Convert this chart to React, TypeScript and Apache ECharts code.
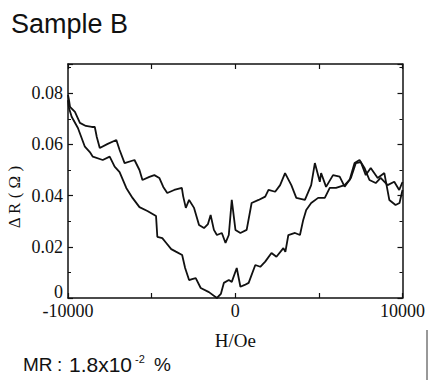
import React, { useEffect, useRef } from "react";
import * as echarts from "echarts";

const titleText = "Sample B";
const mrParts = ["MR", ":", "1.8x10", "-2", "%"];
const xName = "H/Oe";
const yName = "Δ R ( Ω )";

const xTickLabels = ["-10000", "0", "10000"];
const yTickLabels = ["0", "0.02", "0.04", "0.06", "0.08"];

const branchAx = [-10000, -9941, -9881, -9585, -9288, -8932, -8576, -8398, -8279, -8101, -7626, -7110, -6914, -6617, -6024, -5727, -5549, -5134, -4837, -4540, -4303, -4065, -3650, -3193, -3116, -2955, -2760, -2463, -2166, -1869, -1632, -1472, -1276, -1098, -801, -582, -386, -208, 12, 309, 682, 979, 1395, 1792, 1988, 2386, 2682, 2979, 3353, 3650, 4166, 4540, 4760, 5056, 5134, 5430, 5846, 6243, 6540, 6914, 7211, 7507, 7804, 8101, 8516, 8914, 9211, 9585, 9822, 10000];
const branchAy = [0.0793, 0.0773, 0.0747, 0.0727, 0.0684, 0.0672, 0.0668, 0.0668, 0.0629, 0.0586, 0.0602, 0.0617, 0.0578, 0.0527, 0.0539, 0.05, 0.0461, 0.0473, 0.048, 0.0469, 0.0434, 0.041, 0.0422, 0.043, 0.0398, 0.0352, 0.0383, 0.0352, 0.0285, 0.0273, 0.0289, 0.0324, 0.0266, 0.0246, 0.0254, 0.0215, 0.0246, 0.0383, 0.0266, 0.0254, 0.0266, 0.0371, 0.0383, 0.0396, 0.0422, 0.0415, 0.0441, 0.0488, 0.0441, 0.0391, 0.0383, 0.0441, 0.0527, 0.0454, 0.0488, 0.0434, 0.048, 0.0474, 0.0435, 0.0469, 0.0527, 0.0531, 0.048, 0.0508, 0.0469, 0.0488, 0.0383, 0.0363, 0.0371, 0.0422];

const branchBx = [-10000, -9941, -9781, -9407, -8991, -8694, -8516, -7923, -7507, -7211, -6914, -6516, -6142, -5727, -5252, -4736, -4659, -4362, -4125, -3828, -3549, -3175, -2997, -2760, -2582, -2362, -2065, -1573, -1098, -861, -682, -386, -208, 89, 309, 564, 801, 1199, 1496, 1792, 2166, 2463, 2878, 2997, 3175, 3573, 3869, 4065, 4243, 4540, 4955, 5353, 5650, 6024, 6540, 6837, 7134, 7430, 7727, 8024, 8398, 8694, 9110, 9507, 9804, 10000];
const branchBy = [0.0773, 0.0742, 0.0708, 0.0664, 0.0591, 0.057, 0.0552, 0.0539, 0.0552, 0.0513, 0.0492, 0.043, 0.0391, 0.0355, 0.034, 0.032, 0.0239, 0.0234, 0.0215, 0.0191, 0.0181, 0.0168, 0.0117, 0.007, 0.0074, 0.0078, 0.0039, 0.0023, 0.0, 0.0016, 0.0059, 0.007, 0.0063, 0.0117, 0.0044, 0.0051, 0.0059, 0.0129, 0.0122, 0.0142, 0.0176, 0.0161, 0.0195, 0.018, 0.0246, 0.0254, 0.0246, 0.0305, 0.0344, 0.0371, 0.0391, 0.0391, 0.043, 0.043, 0.0441, 0.0461, 0.0527, 0.0539, 0.0508, 0.0461, 0.0449, 0.0469, 0.0441, 0.0454, 0.0422, 0.0453];

const serif = "'Liberation Serif', 'Times New Roman', serif";
const sans = "'Liberation Sans', Arial, sans-serif";

export default function App() {
  const ref = useRef<HTMLDivElement>(null);
  useEffect(() => {
    if (!ref.current) return;
    const chart = echarts.init(ref.current, undefined, { renderer: "svg" });
    const pairsA = branchAx.map((x, i) => [x, branchAy[i]]);
    const pairsB = branchBx.map((x, i) => [x, branchBy[i]]);
    const axisLine = { show: true, onZero: false, lineStyle: { color: "#111", width: 1.5 } };
    const tick = { show: true, inside: true, length: 5, lineStyle: { color: "#111", width: 1.2 } };
    const minor = { show: true, splitNumber: 2, length: 3, lineStyle: { color: "#111", width: 1 } };
    const fmtY = (v: number) => {
      const idx = Math.round(v / 0.02);
      if (Math.abs(v - idx * 0.02) > 1e-6) return "";
      if (idx === 0) return `{z|${yTickLabels[0]}}`;
      return yTickLabels[idx] ?? "";
    };
    const fmtX = (v: number) => {
      if (v === -10000) return xTickLabels[0];
      if (v === 0) return xTickLabels[1];
      if (v === 10000) return xTickLabels[2];
      return "";
    };
    const t = { color: "#111", fontFamily: serif, fontSize: 18 };
    const s = (size: number) => ({ fill: "#111", font: `${size}px ${sans}`, verticalAlign: "middle" as const });
    chart.setOption({
      animation: false,
      backgroundColor: "#fff",
      grid: { left: 68, right: 23, top: 64, bottom: 82, containLabel: false },
      xAxis: [
        {
          type: "value", min: -10000, max: 10000, interval: 5000, position: "bottom",
          axisLine, axisTick: tick, splitLine: { show: false },
          axisLabel: { ...t, formatter: fmtX, margin: 4, showMinLabel: true, showMaxLabel: true },
          name: xName, nameLocation: "middle", nameGap: 33,
          nameTextStyle: { color: "#111", fontFamily: serif, fontSize: 19 },
        },
        {
          type: "value", min: -10000, max: 10000, interval: 5000, position: "top",
          axisLine, axisTick: tick, splitLine: { show: false }, axisLabel: { show: false },
        },
      ],
      yAxis: [
        {
          type: "value", min: 0, max: 0.0914, interval: 0.02, position: "left",
          axisLine, axisTick: tick, minorTick: minor, splitLine: { show: false },
          axisLabel: {
            ...t, formatter: fmtY, margin: 5, showMaxLabel: false,
            rich: { z: { ...t, padding: [0, 0, 12, 0] } },
          },
        },
        {
          type: "value", min: 0, max: 0.0914, interval: 0.02, position: "right",
          axisLine, axisTick: tick, minorTick: minor, splitLine: { show: false }, axisLabel: { show: false },
        },
      ],
      series: [
        {
          type: "line", data: pairsA, showSymbol: false, symbol: "none",
          lineStyle: { color: "#111", width: 1.8 }, xAxisIndex: 0, yAxisIndex: 0,
        },
        {
          type: "line", data: pairsB, showSymbol: false, symbol: "none",
          lineStyle: { color: "#111", width: 1.8 }, xAxisIndex: 0, yAxisIndex: 0,
        },
      ],
      graphic: [
        { type: "text", left: 11, top: 10, style: { text: titleText, fill: "#111", font: `27px ${sans}` } },
        {
          type: "text", x: 14, y: 197, rotation: Math.PI / 2,
          style: { text: yName, fill: "#111", font: `17px ${serif}`, align: "center", verticalAlign: "middle" },
        },
        { type: "text", x: 23, y: 364, style: { text: mrParts[0], ...s(19) } },
        { type: "text", x: 57, y: 364, style: { text: mrParts[1], ...s(19) } },
        { type: "text", x: 69, y: 364, style: { text: mrParts[2], ...s(21) } },
        { type: "text", x: 135, y: 359, style: { text: mrParts[3], ...s(11) } },
        { type: "text", x: 154, y: 364, style: { text: mrParts[4], ...s(19) } },
        {
          type: "line", shape: { x1: 427, y1: 330, x2: 427, y2: 380 },
          style: { stroke: "#333", lineWidth: 1 },
        },
      ],
    });
    return () => chart.dispose();
  }, []);
  return <div ref={ref} style={{ position: "fixed", left: 0, top: 0, width: 428, height: 380 }} />;
}
